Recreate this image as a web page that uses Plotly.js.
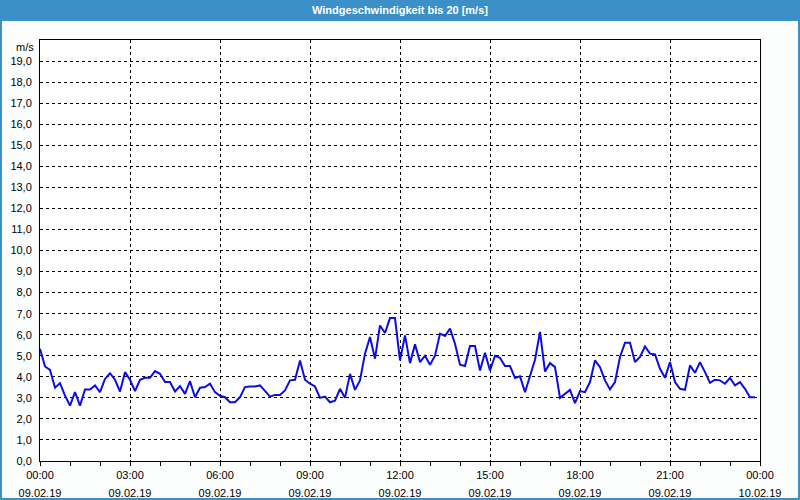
<!DOCTYPE html>
<html>
<head>
<meta charset="utf-8">
<script src="https://cdn.plot.ly/plotly-3.0.1.min.js"></script>
<style>
  html, body { margin: 0; padding: 0; background: #fcfefe; }
  #chart { width: 800px; height: 500px; }
</style>
</head>
<body>
<div id="chart"></div>
<script>
// Wind speed readings, 10-minute interval, 09.02.19 00:00 .. 23:50 (m/s)
const windSpeed = [
  5.33, 4.49, 4.33, 3.48, 3.70, 3.11, 2.63, 3.27, 2.63, 3.40, 3.40, 3.59,
  3.27, 3.90, 4.17, 3.86, 3.30, 4.22, 3.86, 3.32, 3.86, 3.95, 3.95, 4.27,
  4.14, 3.75, 3.75, 3.30, 3.56, 3.19, 3.79, 3.03, 3.48, 3.51, 3.67, 3.27,
  3.10, 3.03, 2.79, 2.79, 3.03, 3.51, 3.54, 3.54, 3.59, 3.35, 3.06, 3.14,
  3.14, 3.35, 3.83, 3.86, 4.78, 3.86, 3.67, 3.54, 3.00, 3.06, 2.79, 2.87,
  3.43, 3.00, 4.14, 3.38, 3.83, 5.10, 5.89, 4.86, 6.44, 6.08, 6.79, 6.79,
  4.78, 5.97, 4.65, 5.54, 4.70, 5.00, 4.57, 5.00, 6.05, 5.94, 6.29, 5.57,
  4.57, 4.51, 5.46, 5.46, 4.30, 5.14, 4.30, 5.00, 4.90, 4.51, 4.51, 3.94,
  4.02, 3.27, 4.06, 4.81, 6.13, 4.25, 4.65, 4.46, 3.00, 3.19, 3.38, 2.75,
  3.32, 3.27, 3.75, 4.78, 4.46, 3.83, 3.40, 3.75, 4.94, 5.62, 5.62, 4.70,
  4.94, 5.44, 5.10, 5.06, 4.38, 3.95, 4.70, 3.75, 3.43, 3.38, 4.54, 4.19,
  4.70, 4.22, 3.71, 3.86, 3.83, 3.67, 3.95, 3.59, 3.75, 3.43, 3.03, 3.03
];
const startTime = '2019-02-09T00:00:00';
const stepMinutes = 10;

const tickTimes = ['2019-02-09 00:00','2019-02-09 03:00','2019-02-09 06:00','2019-02-09 09:00',
  '2019-02-09 12:00','2019-02-09 15:00','2019-02-09 18:00','2019-02-09 21:00','2019-02-10 00:00'];
const tickTimeLabels = ['00:00','03:00','06:00','09:00','12:00','15:00','18:00','21:00','00:00'];
const tickDateLabels = ['09.02.19','09.02.19','09.02.19','09.02.19','09.02.19','09.02.19','09.02.19','09.02.19','10.02.19'];
const yTickVals = [0,1,2,3,4,5,6,7,8,9,10,11,12,13,14,15,16,17,18,19];

const chartTitle = 'Windgeschwindigkeit bis 20 [m/s]';
const unitLabel = 'm/s';

function pad(n) { return (n < 10 ? '0' : '') + n; }
const t0 = new Date(startTime + 'Z').getTime();
const times = windSpeed.map((_, i) => {
  const d = new Date(t0 + i * stepMinutes * 60000);
  return d.getUTCFullYear() + '-' + pad(d.getUTCMonth() + 1) + '-' + pad(d.getUTCDate()) +
    ' ' + pad(d.getUTCHours()) + ':' + pad(d.getUTCMinutes());
});

const sp = '<span style="font-size:11px">';
const tickText = tickTimeLabels.map((t, i) => sp + t + '</span><br>' + sp + tickDateLabels[i] + '</span>');

// plot-area geometry helpers (paper coords)
const L = 40, R = 40, T = 40, B = 39, W = 800, H = 500;
const pw = W - L - R, ph = H - T - B;
const px = x => (x - L) / pw;
const py = y => (H - B - y) / ph;
const frameBlue = '#3c90c8';

const trace = {
  x: times,
  y: windSpeed,
  type: 'scatter',
  mode: 'lines',
  line: { color: '#0c0ce6', width: 2 },
  hoverinfo: 'skip'
};

const font = 'Liberation Sans, Arial, sans-serif';

const layout = {
  width: W, height: H,
  margin: { l: L, r: R, t: T, b: B, pad: 0 },
  paper_bgcolor: '#fcfefe',
  plot_bgcolor: '#ffffff',
  separators: ',.',
  showlegend: false,
  font: { family: font, size: 11, color: '#000' },
  title: {
    text: chartTitle,
    font: { family: font, size: 11, color: '#ffffff', weight: 'bold' },
    x: 0.5, xref: 'paper', xanchor: 'center',
    y: 1 - 10.5 / H, yref: 'container', yanchor: 'middle'
  },
  xaxis: {
    type: 'date',
    range: ['2019-02-09 00:00', '2019-02-10 00:00'],
    tickmode: 'array',
    tickvals: tickTimes,
    ticktext: tickText,
    tickfont: { family: font, size: 14, color: '#000' },
    ticklabelstandoff: -4,
    ticks: 'outside', ticklen: 4, tickcolor: '#000', tickwidth: 1,
    minor: { dtick: 3600000, tick0: '2019-02-09 00:00', ticks: 'outside', ticklen: 4, tickcolor: '#000', showgrid: false },
    showgrid: true, gridcolor: '#000', gridwidth: 1, griddash: '3px,3px',
    showline: true, linecolor: '#000', linewidth: 1, mirror: true,
    zeroline: false, fixedrange: true
  },
  yaxis: {
    range: [0, 20],
    tickmode: 'array',
    tickvals: yTickVals,
    tickformat: '.1f',
    tickfont: { family: font, size: 11, color: '#000' },
    ticks: '', ticklabelstandoff: 5,
    showgrid: true, gridcolor: '#000', gridwidth: 1, griddash: '3px,3px',
    showline: true, linecolor: '#000', linewidth: 1, mirror: true,
    zeroline: false, fixedrange: true
  },
  shapes: [
    { type: 'rect', xref: 'paper', yref: 'paper', layer: 'below',
      x0: px(0), x1: px(800), y0: py(21), y1: py(0),
      fillcolor: frameBlue, line: { width: 0 } },
    { type: 'rect', xref: 'paper', yref: 'paper', layer: 'above',
      x0: px(1), x1: px(799), y0: py(499), y1: py(1),
      fillcolor: 'rgba(0,0,0,0)', line: { color: frameBlue, width: 2 } }
  ],
  annotations: [
    { text: unitLabel, xref: 'paper', yref: 'paper', x: px(36), y: py(47),
      xanchor: 'right', yanchor: 'middle', showarrow: false,
      font: { family: font, size: 11, color: '#000' } }
  ]
};

Plotly.newPlot('chart', [trace], layout, { staticPlot: true, displayModeBar: false });
</script>
</body>
</html>
